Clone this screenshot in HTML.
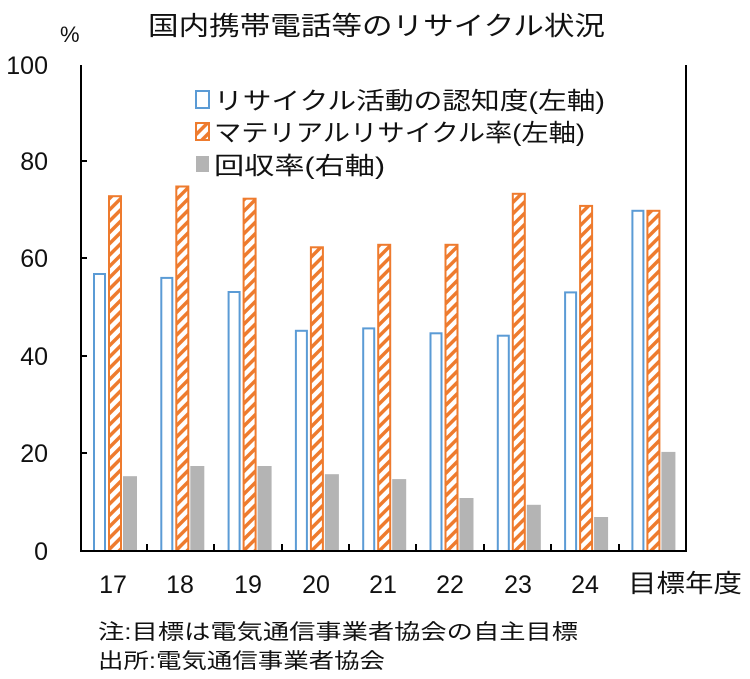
<!DOCTYPE html>
<html><head><meta charset="utf-8"><style>
body{margin:0;background:#fff;}
svg text{font-family:"Liberation Sans","Noto Sans CJK JP",sans-serif;fill:#111;}
</style></head><body>
<svg width="750" height="674" viewBox="0 0 750 674" xmlns="http://www.w3.org/2000/svg">
<defs>
<pattern id="h" patternUnits="userSpaceOnUse" width="8" height="8" patternTransform="rotate(45)">
<rect width="8" height="8" fill="#fff"/><rect width="3.5" height="8" fill="#ee7b2e"/>
</pattern>
</defs>
<text x="148" y="35" font-size="26" textLength="457" lengthAdjust="spacingAndGlyphs">国内携帯電話等のリサイクル状況</text>
<text x="60" y="42" font-size="22">%</text>
<g font-size="25" text-anchor="end">
<text x="48" y="74">100</text><text x="48" y="170">80</text><text x="48" y="267">60</text>
<text x="48" y="365">40</text><text x="48" y="462">20</text><text x="48" y="560">0</text>
</g>
<g stroke-width="2">
<g fill="#fff" stroke="#5b9bd5">
<rect x="94" y="274" width="11" height="277"/>
<rect x="161.3" y="277.9" width="11" height="273.1"/>
<rect x="228.6" y="292" width="11" height="259"/>
<rect x="295.9" y="330.8" width="11" height="220.2"/>
<rect x="363.2" y="328.4" width="11" height="222.6"/>
<rect x="430.5" y="333.3" width="11" height="217.7"/>
<rect x="497.8" y="335.7" width="11" height="215.3"/>
<rect x="565.1" y="292.4" width="11" height="258.6"/>
<rect x="632.4" y="210.8" width="11" height="340.2"/>
</g>
<g fill="url(#h)" stroke="#ee7b2e">
<rect x="109" y="196.2" width="12" height="354.8"/>
<rect x="176.3" y="186.5" width="12" height="364.5"/>
<rect x="243.6" y="198.7" width="12" height="352.3"/>
<rect x="310.9" y="247.3" width="12" height="303.7"/>
<rect x="378.2" y="244.8" width="12" height="306.2"/>
<rect x="445.5" y="244.8" width="12" height="306.2"/>
<rect x="512.8" y="193.8" width="12" height="357.2"/>
<rect x="580.1" y="205.9" width="12" height="345.1"/>
<rect x="647.4" y="210.8" width="12" height="340.2"/>
</g>
</g>
<g fill="#b4b4b4">
<rect x="123" y="476.2" width="14" height="74.8"/>
<rect x="190.3" y="466" width="14" height="85"/>
<rect x="257.6" y="466" width="14" height="85"/>
<rect x="324.9" y="474.2" width="14" height="76.8"/>
<rect x="392.2" y="479.1" width="14" height="71.9"/>
<rect x="459.5" y="498" width="14" height="53"/>
<rect x="526.8" y="504.8" width="14" height="46.2"/>
<rect x="594.1" y="517" width="14" height="34"/>
<rect x="661.4" y="451.9" width="14" height="99.1"/>
</g>
<g stroke="#000" stroke-width="2" fill="none">
<path d="M81 65 V551 H686 V65"/>
<path d="M81 161 H87 M81 258 H87 M81 356 H87 M81 453 H87"/>
<path d="M147 551 V544 M214 551 V544 M282 551 V544 M349 551 V544 M416 551 V544 M484 551 V544 M551 551 V544 M619 551 V544"/>
</g>
<g font-size="25" text-anchor="middle">
<text x="113" y="593">17</text><text x="180" y="593">18</text><text x="248" y="593">19</text>
<text x="316" y="593">20</text><text x="383" y="593">21</text><text x="450" y="593">22</text>
<text x="518" y="593">23</text><text x="585" y="593">24</text>
</g>
<text x="628" y="592" font-size="25" textLength="114" lengthAdjust="spacingAndGlyphs">目標年度</text>
<rect x="196" y="91" width="13" height="17" fill="#fff" stroke="#5b9bd5" stroke-width="2"/>
<text x="214" y="109" font-size="24" textLength="391" lengthAdjust="spacingAndGlyphs">リサイクル活動の認知度(左軸)</text>
<rect x="196" y="123" width="13" height="17" fill="url(#h)" stroke="#ee7b2e" stroke-width="2"/>
<text x="214" y="141" font-size="24" textLength="371" lengthAdjust="spacingAndGlyphs">マテリアルリサイクル率(左軸)</text>
<rect x="196" y="156" width="13" height="16" fill="#b4b4b4"/>
<text x="214" y="174" font-size="24" textLength="171" lengthAdjust="spacingAndGlyphs">回収率(右軸)</text>
<text x="98" y="639" font-size="21" textLength="480" lengthAdjust="spacingAndGlyphs">注:目標は電気通信事業者協会の自主目標</text>
<text x="98" y="668" font-size="21" textLength="287" lengthAdjust="spacingAndGlyphs">出所:電気通信事業者協会</text>
</svg>
</body></html>
